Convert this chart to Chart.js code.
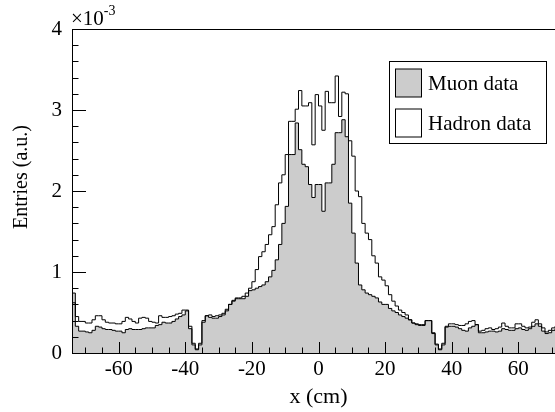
<!DOCTYPE html>
<html><head><meta charset="utf-8">
<script src="https://cdn.jsdelivr.net/npm/chart.js@4.4.1/dist/chart.umd.min.js"></script>
<style>
html,body{margin:0;padding:0;overflow:hidden;background:#fff;width:555px;height:412px;}
#wrap{position:relative;width:600px;height:412px;}
</style></head><body><div id="wrap"><canvas id="c" width="600" height="412"></canvas></div>
<script>
// ---- data (values in units of 1e-3), bins of 1 cm, left edges ----
const binEdges = [-74,-73,-72,-71,-70,-69,-68,-67,-66,-65,-64,-63,-62,-61,-60,-59,-58,-57,-56,-55,-54,-53,-52,-51,-50,-49,-48,-47,-46,-45,-44,-43,-42,-41,-40,-39,-38,-37,-36,-35,-34,-33,-32,-31,-30,-29,-28,-27,-26,-25,-24,-23,-22,-21,-20,-19,-18,-17,-16,-15,-14,-13,-12,-11,-10,-9,-8,-7,-6,-5,-4,-3,-2,-1,0,1,2,3,4,5,6,7,8,9,10,11,12,13,14,15,16,17,18,19,20,21,22,23,24,25,26,27,28,29,30,31,32,33,34,35,36,37,38,39,40,41,42,43,44,45,46,47,48,49,50,51,52,53,54,55,56,57,58,59,60,61,62,63,64,65,66,67,68,69,70,71,72,73];
const binUpperEdge = 74;
const muonValues = [
0.74,0.33,0.27,0.27,0.26,0.25,0.28,0.33,0.32,0.30,0.29,0.29,0.28,0.27,0.27,0.25,0.29,0.30,0.29,0.29,
0.29,0.30,0.31,0.31,0.31,0.34,0.35,0.38,0.37,0.37,0.39,0.42,0.45,0.47,0.52,0.30,0.10,0.05,0.10,0.38,
0.46,0.44,0.43,0.43,0.45,0.47,0.54,0.60,0.64,0.67,0.67,0.67,0.70,0.77,0.78,0.80,0.82,0.84,0.88,0.94,
1.02,1.15,1.34,1.60,1.81,2.45,2.45,2.84,2.51,2.33,2.30,2.08,1.92,2.08,2.08,1.75,2.10,2.10,2.33,2.72,
2.72,2.88,2.67,1.85,1.48,1.11,0.84,0.78,0.74,0.72,0.70,0.68,0.63,0.60,0.60,0.55,0.52,0.50,0.47,0.45,
0.43,0.41,0.37,0.35,0.34,0.34,0.40,0.40,0.24,0.10,0.05,0.10,0.32,0.33,0.33,0.32,0.30,0.28,0.27,0.31,
0.33,0.35,0.25,0.25,0.26,0.27,0.27,0.26,0.27,0.30,0.29,0.28,0.28,0.30,0.31,0.29,0.28,0.30,0.33,0.36,
0.33,0.27,0.24,0.25,0.28,0.30,0.28,0.32];
const hadronValues = [
0.62,0.45,0.39,0.39,0.37,0.37,0.41,0.46,0.46,0.41,0.38,0.37,0.37,0.36,0.36,0.39,0.44,0.42,0.39,0.37,
0.43,0.44,0.43,0.39,0.38,0.37,0.46,0.44,0.44,0.45,0.46,0.48,0.49,0.53,0.53,0.33,0.12,0.04,0.12,0.40,
0.46,0.47,0.45,0.46,0.47,0.49,0.52,0.60,0.65,0.68,0.68,0.70,0.74,0.80,0.88,1.03,1.19,1.25,1.34,1.46,
1.56,1.83,2.10,2.20,2.45,2.86,2.86,3.01,3.24,3.05,3.05,3.09,2.57,3.19,3.05,2.75,3.23,3.09,3.09,3.42,
2.92,3.22,3.20,2.62,2.43,2.00,1.93,1.60,1.48,1.40,1.20,1.11,0.94,0.90,0.83,0.72,0.64,0.58,0.53,0.50,
0.47,0.41,0.37,0.36,0.35,0.35,0.40,0.40,0.25,0.11,0.04,0.12,0.33,0.36,0.36,0.35,0.34,0.34,0.36,0.39,
0.40,0.35,0.27,0.28,0.30,0.31,0.29,0.30,0.32,0.37,0.33,0.31,0.31,0.36,0.36,0.33,0.31,0.32,0.38,0.41,
0.36,0.31,0.26,0.28,0.31,0.33,0.30,0.35];
const seriesNames = ['Muon data', 'Hadron data'];
const xTickValues = [-60,-40,-20,0,20,40,60];
const yTickValues = [0,1,2,3,4];
const xTitle = 'x (cm)';
const yTitle = 'Entries (a.u.)';
const yExponent = '-3';

// ---- build ----
const FONT = "'Liberation Serif','Times New Roman',serif";
function toPoints(vals){
  const pts = binEdges.map((e,i)=>({x:e, y:vals[i]}));
  pts.push({x:binUpperEdge, y:vals[vals.length-1]});
  return pts;
}

const rootDecor = {
  id:'rootDecor',
  afterDraw(chart){
    const {ctx, chartArea:a, scales:{x, y}} = chart;
    ctx.save();
    ctx.strokeStyle = '#000';
    ctx.lineWidth = 1;
    // frame
    ctx.strokeRect(a.left+0.5, a.top+0.5, a.right-a.left, a.bottom-a.top);
    // x ticks (inside)
    ctx.beginPath();
    for (let v = Math.ceil(x.min/5)*5; v <= x.max; v += 5){
      const px = Math.round(x.getPixelForValue(v))+0.5;
      const len = xTickValues.includes(v) ? 11 : 5.5;
      ctx.moveTo(px, a.bottom); ctx.lineTo(px, a.bottom-len);
    }
    // y ticks (inside)
    for (let i = 0; i <= 20; i++){
      const v = i*0.2;
      const py = Math.round(y.getPixelForValue(v))+0.5;
      const len = (i%5===0) ? 14 : 6.5;
      ctx.moveTo(a.left, py); ctx.lineTo(a.left+len, py);
    }
    ctx.stroke();
    // exponent label
    ctx.fillStyle = '#000';
    ctx.textBaseline = 'middle';
    ctx.textAlign = 'left';
    ctx.font = `21px ${FONT}`;
    ctx.fillText('\u00d710', a.left-1, 19);
    const w = ctx.measureText('\u00d710').width;
    ctx.font = `14px ${FONT}`;
    ctx.fillText(yExponent, a.left-1+w, 11);
    // y title
    ctx.save();
    ctx.translate(22, 177);
    ctx.rotate(-Math.PI/2);
    ctx.textAlign = 'center';
    ctx.font = `20px ${FONT}`;
    ctx.fillText(yTitle, 0, 0);
    ctx.restore();
    // legend
    const lx = 389.5, ly = 61.5, lw = 157, lh = 82;
    ctx.fillStyle = '#fff';
    ctx.fillRect(lx, ly, lw, lh);
    ctx.strokeRect(lx, ly, lw, lh);
    const ds = chart.data.datasets;
    const rows = [83, 123];
    ds.forEach((d, i) => {
      const cy = rows[i];
      ctx.fillStyle = d.fill ? d.backgroundColor : '#fff';
      ctx.fillRect(395.5, cy-14, 26, 28);
      ctx.strokeStyle = '#000';
      ctx.strokeRect(395.5, cy-14, 26, 28);
      ctx.fillStyle = '#000';
      ctx.font = `21px ${FONT}`;
      ctx.textAlign = 'left';
      ctx.textBaseline = 'middle';
      ctx.fillText(d.label, 428, cy+1);
    });
    ctx.restore();
  }
};

new Chart(document.getElementById('c'), {
  type: 'line',
  data: { datasets: [
    { label: seriesNames[0], data: toPoints(muonValues), stepped: true, fill: 'origin',
      backgroundColor: '#cccccc', borderColor: '#000', borderWidth: 1, pointRadius: 0, order: 1 },
    { label: seriesNames[1], data: toPoints(hadronValues), stepped: true, fill: false,
      borderColor: '#000', borderWidth: 1, pointRadius: 0, order: 0 }
  ]},
  options: {
    responsive: false, animation: false, devicePixelRatio: 1,
    layout: { padding: { top: 29, right: 35, left: 0, bottom: 0 } },
    plugins: { legend: { display: false }, tooltip: { enabled: false } },
    scales: {
      x: { type: 'linear', min: -74, max: 74,
        grid: { display: false, drawTicks: false }, border: { display: false },
        afterBuildTicks: s => { s.ticks = xTickValues.map(v => ({ value: v })); },
        afterFit: s => { s.height = 59; },
        ticks: { font: { family: FONT, size: 21 }, color: '#000', padding: 4, maxRotation: 0, autoSkip: false,
                 callback: v => String(v) },
        title: { display: true, text: xTitle, font: { family: FONT, size: 22 }, color: '#000', padding: { top: 0, bottom: 2 } }
      },
      y: { type: 'linear', min: 0, max: 4,
        grid: { display: false, drawTicks: false }, border: { display: false },
        afterBuildTicks: s => { s.ticks = yTickValues.map(v => ({ value: v })); },
        afterFit: s => { s.width = 72; },
        ticks: { font: { family: FONT, size: 21 }, color: '#000', padding: 10, autoSkip: false,
                 callback: v => String(v) }
      }
    }
  },
  plugins: [rootDecor]
});
</script></body></html>
